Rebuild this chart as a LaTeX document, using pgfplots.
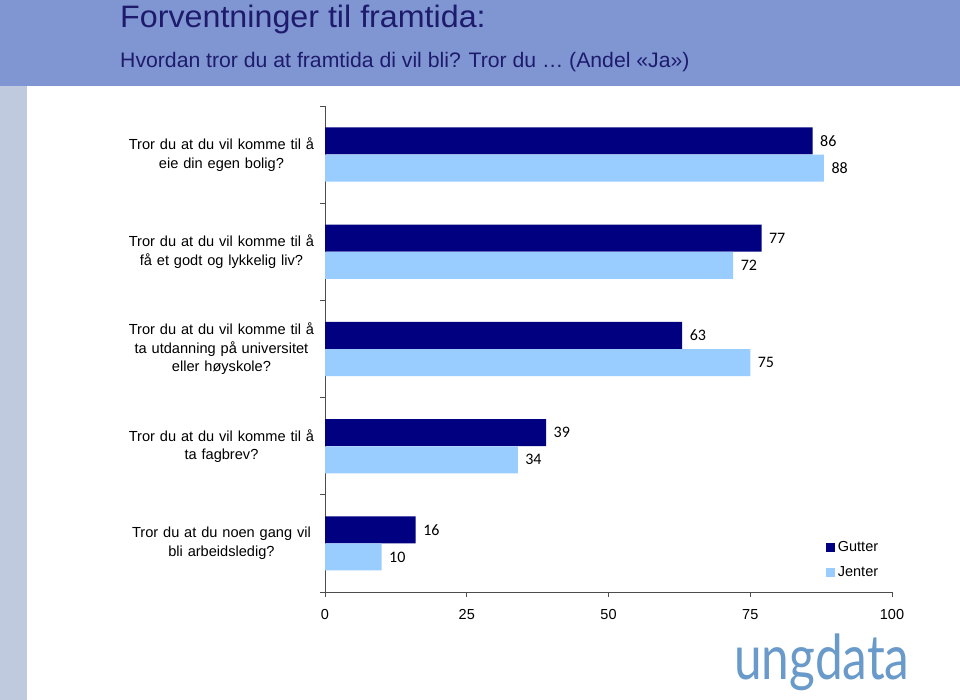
\documentclass[border=0pt]{standalone}
\usepackage{fontspec}
\setmainfont{Liberation Sans}
\newfontfamily\titlefont[FakeStretch=1.04]{Liberation Sans}
\newfontfamily\subfont[FakeStretch=1.01]{Liberation Sans}
\newfontfamily\numfont{Carlito}
\newfontfamily\logofont[FakeStretch=0.8]{Lato}
\usepackage{pgfplots}
\pgfplotsset{compat=1.18}
\definecolor{headbg}{HTML}{7F96D2}
\definecolor{stripbg}{HTML}{C0CADF}
\definecolor{titlecol}{HTML}{1E1B6C}
\definecolor{gutter}{HTML}{000080}
\definecolor{jenter}{HTML}{99CCFF}
\definecolor{logoblue}{HTML}{6A9ACA}
\begin{document}
\begin{tikzpicture}[x=1pt,y=1pt]
\fill[white] (0,0) rectangle (960,700);
\fill[headbg] (0,614) rectangle (960,700);
\fill[stripbg] (0,0) rectangle (27,614);
\node[anchor=base west, text=titlecol, font=\titlefont\fontsize{31}{31}\selectfont, inner sep=0] at (120,672) {Forventninger til framtida:};
\node[anchor=base west, text=titlecol, font=\subfont\fontsize{21}{21}\selectfont, inner sep=0] at (120,632) {Hvordan tror du at framtida di vil bli? Tror du … (Andel «Ja»)};
\node[anchor=base west, text=logoblue, font=\logofont\fontsize{62}{62}\selectfont, inner sep=0] at (734,20) {ungdata};
\begin{axis}[
  at={(325pt,108pt)}, anchor=south west,
  scale only axis, width=567pt, height=486pt,
  xmin=0, xmax=100, ymin=-0.5, ymax=4.5,
  xbar, bar width=27pt,
  axis x line*=bottom, axis y line*=left,
  axis line style={-, color=black!70, line width=0.8pt},
  tick style={color=black!70, line width=0.8pt},
  tick align=outside, major tick length=5pt,
  xtick={0,25,50,75,100},
  ytick={-0.5,0.5,1.5,2.5,3.5,4.5}, yticklabels={},
  extra y ticks={0,1,2,3,4},
  extra y tick labels={{Tror du at du noen gang vil\\bli arbeidsledig?},{Tror du at du vil komme til å\\ta fagbrev?},{Tror du at du vil komme til å\\ta utdanning på universitet\\eller høyskole?},{Tror du at du vil komme til å\\få et godt og lykkelig liv?},{Tror du at du vil komme til å\\eie din egen bolig?}},
  extra y tick style={major tick length=0pt, tick style={draw=none}, yticklabel style={align=center, text width=200pt, font=\fontsize{14.6}{18.5}\selectfont}},
  /pgf/number format/assume math mode=true,
  xticklabel style={font=\fontsize{14.5}{14.5}\selectfont, yshift=-9pt},
  nodes near coords,
  every node near coord/.append style={font=\numfont\fontsize{16}{16}\selectfont, anchor=west, xshift=4pt, text=black},
  legend style={at={(0.883,0.108)}, anchor=north west, draw=none, fill=none, font=\fontsize{14.5}{14.5}\selectfont, row sep=9pt, inner sep=0pt, nodes={inner xsep=3pt}},
  legend cell align=left,
  legend image code/.code={\fill[#1] (0pt,-4.5pt) rectangle (9pt,4.5pt);},
  clip=false,
]
\addplot[fill=gutter, draw=none, bar shift=13.6pt] coordinates {(86,4) (77,3) (63,2) (39,1) (16,0)};
\addplot[fill=jenter, draw=none, bar shift=-13.6pt] coordinates {(88,4) (72,3) (75,2) (34,1) (10,0)};
\legend{Gutter, Jenter}
\end{axis}
\end{tikzpicture}
\end{document}
